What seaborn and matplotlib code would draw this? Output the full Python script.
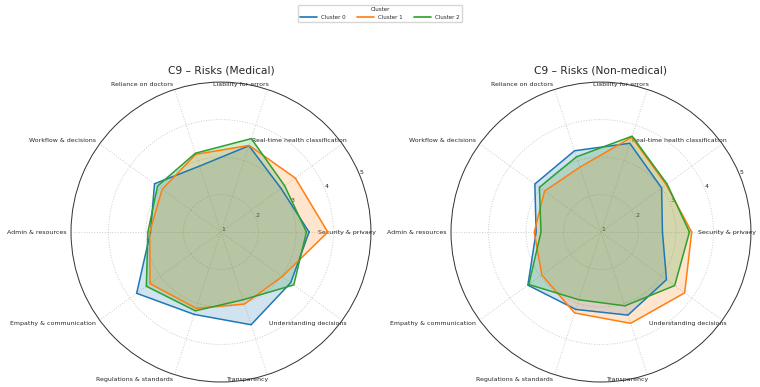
import numpy as np
import pandas as pd
import seaborn as sns
import matplotlib.pyplot as plt
from matplotlib.lines import Line2D

categories = ["Security & privacy", "Real-time health classification", "Liability for errors",
              "Reliance on doctors", "Workflow & decisions", "Admin & resources",
              "Empathy & communication", "Regulations & standards", "Transparency",
              "Understanding decisions"]
clusters = ["Cluster 0", "Cluster 1", "Cluster 2"]

# mean scores per cluster, same order as categories
medical_c0 = [3.35, 2.98, 3.42, 2.85, 3.19, 2.88, 3.78, 3.31, 3.60, 3.30]
medical_c1 = [3.85, 3.45, 3.43, 3.18, 2.94, 2.90, 3.34, 3.14, 3.02, 3.02]
medical_c2 = [3.28, 3.10, 3.62, 3.21, 3.09, 2.95, 3.46, 3.21, 2.90, 3.40]

nonmed_c0 = [2.64, 3.00, 3.49, 3.28, 3.18, 2.73, 3.41, 3.17, 3.33, 3.16]
nonmed_c1 = [3.42, 3.15, 3.66, 2.82, 2.86, 2.78, 2.95, 3.27, 3.56, 3.76]
nonmed_c2 = [3.36, 3.18, 3.69, 3.11, 3.03, 2.60, 3.38, 2.90, 3.07, 3.43]

sns.set_theme(style="white")
plt.rcParams['font.family'] = ['DejaVu Sans']
colors = sns.color_palette("tab10", 3)

angles = np.linspace(0, 2 * np.pi, len(categories), endpoint=False)

fig = plt.figure(figsize=(7.6, 3.87), dpi=100)
panels = [("C9 – Risks (Medical)", [medical_c0, medical_c1, medical_c2], 0.0934),
          ("C9 – Risks (Non-medical)", [nonmed_c0, nonmed_c1, nonmed_c2], 0.5934)]

for title, series, left in panels:
    ax = fig.add_axes([left, 0.0129, 0.3947, 0.775], projection='polar')
    rows = []
    for name, vals in zip(clusters, series):
        th = list(angles) + [2 * np.pi]
        closed = list(vals) + [vals[0]]
        for t, v in zip(th, closed):
            rows.append({"theta": t, "score": v, "cluster": name})
    df = pd.DataFrame(rows)
    sns.lineplot(data=df, x="theta", y="score", hue="cluster", palette=colors,
                 sort=False, estimator=None, lw=1.1, ax=ax, legend=False)
    for (name, g), c in zip(df.groupby("cluster", sort=False), colors):
        ax.fill(g["theta"], g["score"], color=c, alpha=0.2, lw=0)
    ax.set_xlabel("")
    ax.set_ylabel("")
    ax.set_ylim(1, 5)
    ax.set_yticks([1, 2, 3, 4, 5])
    ax.set_yticklabels(["1", "2", "3", "4", "5"], fontsize=4.5)
    ax.set_xticks(angles)
    ax.set_xticklabels(categories, ha='right', fontsize=4.5)
    ax.tick_params(axis='x', size=0, pad=-3.4)
    ax.grid(True, color='#cccccc', ls=':', lw=0.7)
    ax.spines['polar'].set_color('#333333')
    ax.spines['polar'].set_linewidth(0.7)
    ax.set_title(title, fontsize=7.7)

handles = [Line2D([], [], color=c, lw=1.2) for c in colors]
fig.legend(handles, clusters, title="Cluster", loc="upper center",
           bbox_to_anchor=(0.5, 0.995), ncol=3, fontsize=4, title_fontsize=4,
           handlelength=3)

fig.savefig("out.png", dpi=100)
